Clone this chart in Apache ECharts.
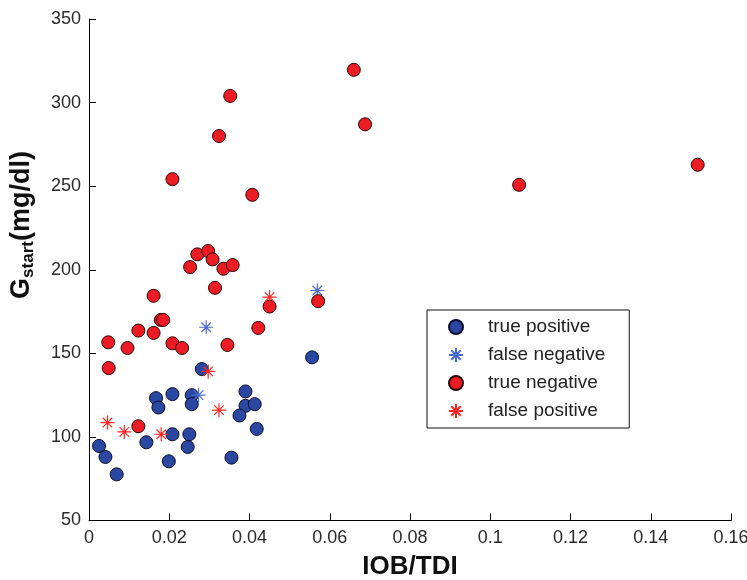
<!DOCTYPE html>
<html>
<head>
<meta charset="utf-8">
<script src="https://cdn.jsdelivr.net/npm/echarts@6/dist/echarts.min.js"></script>
<style>html,body{margin:0;padding:0;background:#fff}#c{width:747px;height:580px}</style>
</head>
<body>
<div id="c"></div>
<script>
// [IOB/TDI, Gstart]
var truePositive = [
  [0.0025, 94.6], [0.0041, 88.0], [0.0069, 77.6], [0.0167, 123.2], [0.0173, 117.6],
  [0.0143, 96.8], [0.0199, 85.4], [0.0208, 125.6], [0.0208, 101.6], [0.0250, 101.6],
  [0.0246, 94.0], [0.0256, 125.0], [0.0256, 119.6], [0.0281, 140.6], [0.0390, 127.2],
  [0.0390, 118.6], [0.0375, 112.8], [0.0413, 119.6], [0.0418, 104.8], [0.0355, 87.6],
  [0.0556, 147.6]
];
var falseNegative = [
  [0.0292, 165.6], [0.0569, 187.6], [0.0273, 125.0]
];
var trueNegative = [
  [0.0161, 184.4], [0.0179, 170.0], [0.0185, 170.0], [0.0123, 163.6], [0.0161, 162.2],
  [0.0048, 156.6], [0.0096, 153.2], [0.0208, 156.0], [0.0232, 153.2], [0.0049, 141.2],
  [0.0123, 106.4], [0.0314, 189.2], [0.0450, 178.0], [0.0571, 181.2], [0.0422, 165.2],
  [0.0345, 155.0], [0.0208, 254.2], [0.0407, 244.8], [0.0270, 209.2], [0.0297, 211.2],
  [0.0308, 206.2], [0.0252, 201.6], [0.0335, 200.6], [0.0358, 202.8], [0.0660, 319.6],
  [0.0688, 287.0], [0.0352, 304.0], [0.0324, 280.0], [0.1072, 250.8], [0.1517, 262.8]
];
var falsePositive = [
  [0.0046, 108.6], [0.0088, 103.0], [0.0180, 101.6], [0.0297, 139.2], [0.0324, 116.0],
  [0.0450, 183.6]
];
var seriesNames = ['true positive', 'false negative', 'true negative', 'false positive'];
var xTicks = {min: 0, max: 0.16, interval: 0.02};
var yTicks = {min: 50, max: 350, interval: 50};

var starPath = 'path://M0,5L10,5M5,0L5,10M1.6,1.6L8.4,8.4M8.4,1.6L1.6,8.4';
var FONT = 'Liberation Sans, Arial, sans-serif';

var chart = echarts.init(document.getElementById('c'), null, {renderer: 'canvas'});
chart.setOption({
  animation: false,
  backgroundColor: '#fff',
  grid: {left: 89, right: 16, top: 19, bottom: 59.5, containLabel: false, outerBoundsMode: 'none'},
  xAxis: {
    type: 'value', min: xTicks.min, max: xTicks.max, interval: xTicks.interval,
    name: 'IOB/TDI', nameLocation: 'middle', nameGap: 33,
    nameTextStyle: {fontFamily: FONT, fontWeight: 'bold', fontSize: 26, color: '#111'},
    axisLine: {lineStyle: {color: '#000', width: 1}},
    axisTick: {inside: true, length: 7, lineStyle: {color: '#000'}},
    axisLabel: {fontFamily: FONT, fontSize: 18, color: '#2a2a2a', margin: 9,
      formatter: function (v) { return String(+v.toFixed(2)); }},
    splitLine: {show: false}
  },
  yAxis: {
    type: 'value', min: yTicks.min, max: yTicks.max, interval: yTicks.interval,
    axisLine: {show: true, lineStyle: {color: '#000', width: 1}},
    axisTick: {show: true, inside: true, length: 7, lineStyle: {color: '#000'}},
    axisLabel: {fontFamily: FONT, fontSize: 18, color: '#2a2a2a', margin: 8},
    splitLine: {show: false}
  },
  legend: {
    orient: 'vertical', left: 427, top: 310,
    data: seriesNames,
    itemWidth: 38, itemHeight: 14, itemGap: 8,
    padding: [7, 24, 7, 21],
    borderColor: '#111', borderWidth: 1, borderRadius: 0,
    backgroundColor: '#fff',
    textStyle: {fontFamily: FONT, fontSize: 19, color: '#222', lineHeight: 20, padding: [0, 0, 0, 8]}
  },
  graphic: [{
    type: 'text', rotation: Math.PI / 2,
    x: 22, y: 225,
    style: {
      text: '{g|G}{s|start}{g|(mg/dl)}',
      fill: '#111',
      align: 'center', verticalAlign: 'middle',
      rich: {
        g: {fontFamily: FONT, fontWeight: 'bold', fontSize: 27, lineHeight: 30, fill: '#111'},
        s: {fontFamily: FONT, fontWeight: 'bold', fontSize: 17, lineHeight: 30, verticalAlign: 'bottom', fill: '#111'}
      }
    }
  }],
  series: [
    {name: seriesNames[0], type: 'scatter', data: truePositive, symbol: 'circle', symbolSize: 13,
      itemStyle: {color: '#2a47a2', borderColor: '#0c0c2a', borderWidth: 1, opacity: 1}},
    {name: seriesNames[1], type: 'scatter', data: falseNegative, symbol: starPath, symbolSize: 14,
      itemStyle: {color: 'rgba(0,0,0,0)', borderColor: '#4a6bd0', borderWidth: 1.2, opacity: 1}},
    {name: seriesNames[2], type: 'scatter', data: trueNegative, symbol: 'circle', symbolSize: 13,
      itemStyle: {color: '#ec1c24', borderColor: '#2a0505', borderWidth: 1, opacity: 1}},
    {name: seriesNames[3], type: 'scatter', data: falsePositive, symbol: starPath, symbolSize: 14,
      itemStyle: {color: 'rgba(0,0,0,0)', borderColor: '#ff2626', borderWidth: 1.2, opacity: 1}}
  ]
});
</script>
</body>
</html>
